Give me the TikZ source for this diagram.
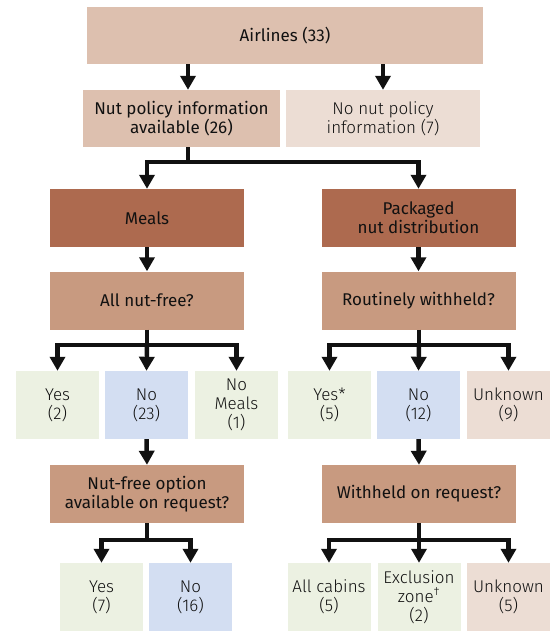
\documentclass[tikz,border=0pt]{standalone}
\usepackage{fontspec}
\setmainfont{Fira Sans}[UprightFont=* Light, BoldFont=*]
\usetikzlibrary{arrows.meta}
\definecolor{tanA}{HTML}{DDC0AF}
\definecolor{tanL}{HTML}{ECDDD4}
\definecolor{rust}{HTML}{AD6A4F}
\definecolor{tanM}{HTML}{C89A80}
\definecolor{leafG}{HTML}{ECF1E2}
\definecolor{leafB}{HTML}{D3DEF2}
\definecolor{ink}{HTML}{111111}
\begin{document}
\begin{tikzpicture}[x=1pt,y=-1pt,
  box/.style={inner sep=0pt, align=center, text=ink, font=\fontsize{17}{19}\selectfont},
  hdr/.style={box, font=\fontsize{17}{19}\selectfont\bfseries},
  wide/.style={minimum width=194pt, minimum height=58pt},
  leaf/.style={box, minimum width=83pt, minimum height=68pt},
  ln/.style={line width=4.5pt, draw=ink},
  arr/.style={ln, -{Triangle[width=15pt,length=14pt]}}]
\useasboundingbox (0,0) rectangle (550,639);
% row 1-2
\node[hdr, fill=tanA, minimum width=396pt, minimum height=57pt] (air) at (285,35.5) {Airlines (33)};
\node[hdr, fill=tanA, minimum width=197pt, minimum height=57pt] (info) at (181.5,118.5) {Nut policy information\\available (26)};
\node[box, fill=tanL, minimum width=194pt, minimum height=57pt] (noinfo) at (383,118.5) {No nut policy\\information (7)};
% row 3
\node[hdr, wide, fill=rust] (meals) at (147,218) {Meals};
\node[hdr, wide, fill=rust] (pack) at (418.5,218) {Packaged\\nut distribution};
% row 4
\node[hdr, wide, fill=tanM] (allnut) at (147,300.5) {All nut-free?};
\node[hdr, wide, fill=tanM] (rout) at (418.5,300.5) {Routinely withheld?};
% row 5
\node[leaf, fill=leafG] (lyes) at (57.5,405) {Yes\\(2)};
\node[leaf, fill=leafB] (lno) at (146.5,405) {No\\(23)};
\node[leaf, fill=leafG] (lnom) at (236.5,405) {No\\Meals\\(1)};
\node[leaf, fill=leafG] (ryes) at (329.5,405) {Yes*\\(5)};
\node[leaf, fill=leafB] (rno) at (418.5,405) {No\\(12)};
\node[leaf, fill=tanL] (runk) at (508.5,405) {Unknown\\(9)};
% row 6
\node[hdr, wide, fill=tanM] (opt) at (147,494) {Nut-free option\\available on request?};
\node[hdr, wide, fill=tanM] (wreq) at (419,494) {Withheld on request?};
% row 7
\node[leaf, fill=leafG] (oyes) at (101.5,597) {Yes\\(7)};
\node[leaf, fill=leafB] (ono) at (190.5,597) {No\\(16)};
\node[leaf, fill=leafG] (wall) at (329,597) {All cabins\\(5)};
\node[leaf, fill=leafG] (wexc) at (419,597) {Exclusion\\zone\textsuperscript{†}\\(2)};
\node[leaf, fill=tanL] (wunk) at (508.5,597) {Unknown\\(5)};
% branch points
\coordinate (b1) at (188,162);
\coordinate (b2) at (147,345);
\coordinate (b3) at (419,345);
\coordinate (b4) at (147,540);
\coordinate (b5) at (419,540);
% connectors
\draw[arr] (air.south -| b1) -- (info.north -| b1);
\draw[arr] (air.south -| noinfo) -- (noinfo.north);
\draw[ln] (info.south -| b1) -- (b1);
\draw[arr] ([xshift=2.25pt]b1) -| (meals.north);
\draw[arr] ([xshift=-2.25pt]b1) -| (pack.north);
\draw[arr] (meals) -- (allnut);
\draw[arr] (pack) -- (rout);
\draw[ln] (allnut.south) -- (b2);
\draw[arr] (b2) -| (lyes.north);
\draw[arr] (b2) -- (lno.north);
\draw[arr] (b2) -| (lnom.north);
\draw[ln] (rout.south -| b3) -- (b3);
\draw[arr] (b3) -| (ryes.north);
\draw[arr] (b3) -- (rno.north);
\draw[arr] (b3) -| (runk.north);
\draw[arr] (lno.south) -- (opt.north);
\draw[arr] (rno.south) -- (wreq.north);
\draw[ln] (opt.south) -- (b4);
\draw[arr] ([xshift=2.25pt]b4) -| (oyes.north);
\draw[arr] ([xshift=-2.25pt]b4) -| (ono.north);
\draw[ln] (wreq.south) -- (b5);
\draw[arr] (b5) -| (wall.north);
\draw[arr] (b5) -- (wexc.north);
\draw[arr] (b5) -| (wunk.north);
\end{tikzpicture}
\end{document}
